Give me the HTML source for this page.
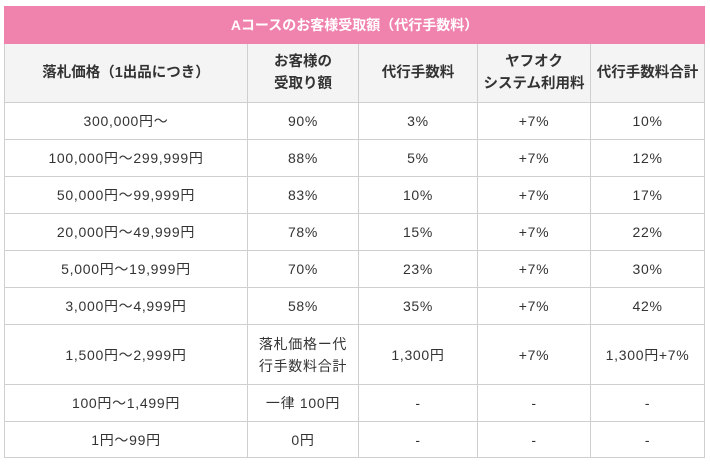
<!DOCTYPE html>
<html><head><meta charset="utf-8"><style>
body{margin:0;background:#fff;width:710px;height:464px;overflow:hidden;font-family:"Liberation Sans","Noto Sans CJK JP",sans-serif;}
table{position:absolute;left:4px;top:6px;border-collapse:collapse;table-layout:fixed;width:700px;font-size:14px;color:#333;}
td,th{border:1px solid #cfcfcf;text-align:center;padding:0;line-height:22px;}
td{letter-spacing:0.7px;}
th{background:#f4f4f4;font-weight:bold;color:#333;font-size:14.5px;}
.t th{background:#f083ae;color:#fff;border:1px solid #f083ae;height:36px;font-size:14px;}
</style></head><body>
<table>
<colgroup><col style="width:243px"><col style="width:111px"><col style="width:119px"><col style="width:113px"><col style="width:114px"></colgroup>
<tr class="t"><th colspan="5">Aコースのお客様受取額（代行手数料）</th></tr>
<tr style="height:59px"><th>落札価格（1出品につき）</th><th>お客様の<br>受取り額</th><th>代行手数料</th><th>ヤフオク<br>システム利用料</th><th>代行手数料合計</th></tr>
<tr style="height:37px"><td>300,000円〜</td><td>90%</td><td>3%</td><td>+7%</td><td>10%</td></tr>
<tr style="height:37px"><td>100,000円〜299,999円</td><td>88%</td><td>5%</td><td>+7%</td><td>12%</td></tr>
<tr style="height:37px"><td>50,000円〜99,999円</td><td>83%</td><td>10%</td><td>+7%</td><td>17%</td></tr>
<tr style="height:37px"><td>20,000円〜49,999円</td><td>78%</td><td>15%</td><td>+7%</td><td>22%</td></tr>
<tr style="height:37px"><td>5,000円〜19,999円</td><td>70%</td><td>23%</td><td>+7%</td><td>30%</td></tr>
<tr style="height:37px"><td>3,000円〜4,999円</td><td>58%</td><td>35%</td><td>+7%</td><td>42%</td></tr>
<tr style="height:60px"><td>1,500円〜2,999円</td><td>落札価格ー代<br>行手数料合計</td><td>1,300円</td><td>+7%</td><td>1,300円+7%</td></tr>
<tr style="height:37px"><td>100円〜1,499円</td><td>一律 100円</td><td>-</td><td>-</td><td>-</td></tr>
<tr style="height:36px"><td>1円〜99円</td><td>0円</td><td>-</td><td>-</td><td>-</td></tr>
</table>
</body></html>
